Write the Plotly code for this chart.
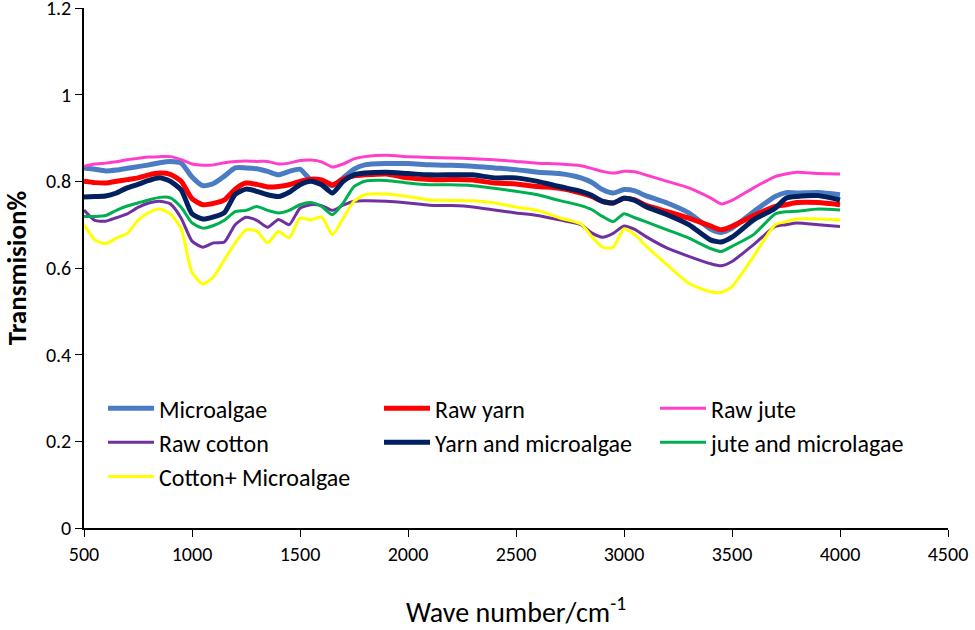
import plotly.graph_objects as go

wave = [500, 550, 600, 650, 700, 750, 800, 850, 900, 950, 1000, 1050, 1100, 1150, 1200,
        1250, 1300, 1350, 1400, 1450, 1500, 1550, 1600, 1650, 1700, 1750, 1800, 1900,
        2000, 2100, 2200, 2300, 2400, 2500, 2600, 2700, 2800, 2850, 2900, 2950, 3000,
        3050, 3100, 3200, 3300, 3400, 3450, 3500, 3600, 3700, 3750, 3800, 3900, 4000]

microalgae = [0.831, 0.828, 0.824, 0.826, 0.830, 0.834, 0.838, 0.843, 0.846, 0.842, 0.810, 0.790, 0.795, 0.812, 0.831,
              0.831, 0.829, 0.823, 0.815, 0.823, 0.828, 0.803, 0.798, 0.790, 0.808, 0.828, 0.838, 0.841,
              0.841, 0.838, 0.837, 0.835, 0.831, 0.827, 0.821, 0.818, 0.808, 0.798, 0.781, 0.773, 0.781,
              0.778, 0.767, 0.750, 0.727, 0.690, 0.682, 0.692, 0.730, 0.765, 0.774, 0.773, 0.774, 0.769]

raw_yarn = [0.800, 0.797, 0.796, 0.800, 0.804, 0.808, 0.815, 0.819, 0.816, 0.800, 0.760, 0.746, 0.749, 0.757, 0.782,
            0.796, 0.793, 0.787, 0.788, 0.792, 0.800, 0.805, 0.803, 0.792, 0.805, 0.813, 0.815, 0.817,
            0.808, 0.804, 0.804, 0.803, 0.796, 0.794, 0.788, 0.784, 0.773, 0.765, 0.754, 0.750, 0.761,
            0.757, 0.745, 0.730, 0.715, 0.697, 0.688, 0.696, 0.721, 0.742, 0.746, 0.751, 0.751, 0.746]

raw_jute = [0.835, 0.840, 0.842, 0.845, 0.850, 0.853, 0.856, 0.857, 0.857, 0.850, 0.840, 0.837, 0.838, 0.843, 0.846,
            0.847, 0.846, 0.846, 0.840, 0.842, 0.848, 0.849, 0.845, 0.833, 0.840, 0.852, 0.857, 0.860,
            0.857, 0.855, 0.854, 0.852, 0.850, 0.846, 0.842, 0.840, 0.836, 0.830, 0.823, 0.819, 0.823,
            0.822, 0.815, 0.800, 0.785, 0.762, 0.748, 0.756, 0.785, 0.811, 0.817, 0.821, 0.818, 0.817]

raw_cotton = [0.734, 0.710, 0.708, 0.716, 0.725, 0.740, 0.750, 0.754, 0.748, 0.715, 0.662, 0.648, 0.658, 0.660, 0.700,
              0.717, 0.710, 0.694, 0.712, 0.700, 0.738, 0.746, 0.744, 0.733, 0.745, 0.754, 0.755, 0.754,
              0.750, 0.745, 0.744, 0.741, 0.734, 0.727, 0.721, 0.711, 0.700, 0.681, 0.671, 0.680, 0.697,
              0.689, 0.673, 0.646, 0.627, 0.610, 0.605, 0.615, 0.654, 0.696, 0.700, 0.704, 0.700, 0.696]

yarn_microalgae = [0.764, 0.765, 0.766, 0.773, 0.785, 0.793, 0.802, 0.808, 0.800, 0.780, 0.725, 0.713, 0.718, 0.728, 0.770,
                   0.782, 0.777, 0.769, 0.765, 0.775, 0.792, 0.800, 0.792, 0.773, 0.800, 0.815, 0.819, 0.821,
                   0.818, 0.815, 0.815, 0.815, 0.808, 0.808, 0.800, 0.788, 0.777, 0.768, 0.754, 0.750, 0.761,
                   0.756, 0.742, 0.723, 0.700, 0.665, 0.660, 0.671, 0.711, 0.738, 0.761, 0.765, 0.767, 0.757]

jute_microalgae = [0.719, 0.719, 0.721, 0.733, 0.743, 0.750, 0.757, 0.763, 0.762, 0.740, 0.704, 0.692, 0.698, 0.710, 0.730,
                   0.733, 0.742, 0.733, 0.727, 0.733, 0.746, 0.751, 0.742, 0.723, 0.750, 0.788, 0.800, 0.802,
                   0.796, 0.792, 0.792, 0.790, 0.784, 0.777, 0.769, 0.756, 0.744, 0.735, 0.719, 0.707, 0.725,
                   0.716, 0.707, 0.688, 0.669, 0.645, 0.638, 0.650, 0.677, 0.725, 0.730, 0.731, 0.736, 0.734]

cotton_microalgae = [0.700, 0.665, 0.656, 0.669, 0.680, 0.710, 0.728, 0.736, 0.725, 0.690, 0.590, 0.563, 0.580, 0.619, 0.658,
                     0.688, 0.685, 0.658, 0.684, 0.670, 0.715, 0.711, 0.718, 0.677, 0.715, 0.754, 0.769, 0.771,
                     0.765, 0.757, 0.756, 0.755, 0.750, 0.741, 0.733, 0.716, 0.702, 0.673, 0.648, 0.648, 0.690,
                     0.677, 0.652, 0.607, 0.565, 0.545, 0.544, 0.557, 0.627, 0.700, 0.707, 0.713, 0.713, 0.711]

y_ticks = [0, 0.2, 0.4, 0.6, 0.8, 1.0, 1.2]
y_tick_labels = ["0", "0.2", "0.4", "0.6", "0.8", "1", "1.2"]
x_ticks = [500, 1000, 1500, 2000, 2500, 3000, 3500, 4000, 4500]

series = [
    ("Microalgae", microalgae, "#4A7CC4", 5),
    ("Raw yarn", raw_yarn, "#FF0000", 5),
    ("Raw jute", raw_jute, "#FF3FCC", 3),
    ("Raw cotton", raw_cotton, "#7030A0", 3),
    ("Yarn and microalgae", yarn_microalgae, "#002060", 5),
    ("jute and microlagae", jute_microalgae, "#00B050", 3),
    ("Cotton+ Microalgae", cotton_microalgae, "#FFFF00", 3),
]

FONT = "Carlito, Lato, sans-serif"

fig = go.Figure()
for name, vals, color, w in series:
    fig.add_trace(go.Scatter(x=wave, y=vals, mode="lines", name=name,
                             line=dict(color=color, width=w, shape="spline", smoothing=0.6)))

fig.update_layout(
    width=975, height=630,
    margin=dict(l=84, r=27, t=8, b=102),
    paper_bgcolor="white", plot_bgcolor="white",
    font=dict(family=FONT, color="black", size=20),
    showlegend=True,
    legend=dict(orientation="h", x=0.022, y=0.273, xanchor="left", yanchor="top",
                entrywidth=215, entrywidthmode="pixels", itemwidth=46,
                font=dict(family=FONT, size=24, color="black"),
                bgcolor="rgba(0,0,0,0)"),
)
fig.update_xaxes(range=[500, 4500], tickvals=x_ticks, showgrid=False, zeroline=False,
                 showline=True, linecolor="black", linewidth=1.5, automargin=False,
                 ticks="outside", ticklen=7, tickcolor="black", tickwidth=1,
                 ticklabeloverflow="allow",
                 tickfont=dict(family=FONT, size=20),
                 title=dict(text="Wave number/cm<sup>-1</sup>", font=dict(family=FONT, size=28), standoff=51))
fig.update_yaxes(range=[0, 1.2], tickvals=y_ticks, ticktext=y_tick_labels, showgrid=False, zeroline=False,
                 showline=True, linecolor="black", linewidth=1.5, automargin=False,
                 ticks="outside", ticklen=7, tickcolor="black", tickwidth=1,
                 ticklabeloverflow="allow",
                 tickfont=dict(family=FONT, size=20),
                 title=dict(text="<b>Transmision%</b>", font=dict(family=FONT, size=27), standoff=18))

fig.write_html("out.html", config={"displayModeBar": False},
               post_script="document.body.style.margin='0';document.body.style.overflow='hidden';")
